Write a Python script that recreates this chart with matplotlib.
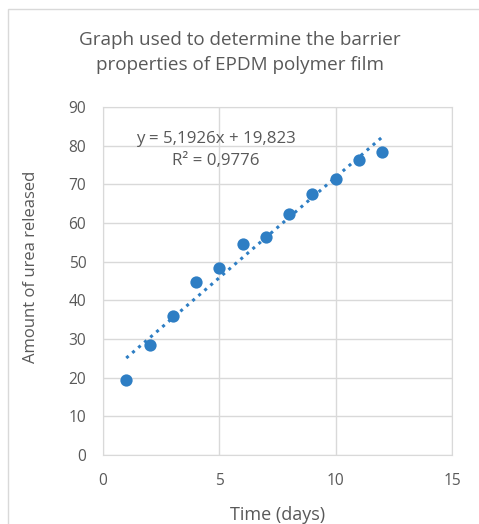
import numpy as np
import matplotlib
matplotlib.use("Agg")
import matplotlib.pyplot as plt
from matplotlib.patches import Rectangle

# data
days = [1, 2, 3, 4, 5, 6, 7, 8, 9, 10, 11, 12]
urea = [19.3, 28.4, 36.0, 44.6, 48.4, 54.6, 56.4, 62.4, 67.4, 71.4, 76.3, 78.4]
x_ticks = [0, 5, 10, 15]
y_ticks = [0, 10, 20, 30, 40, 50, 60, 70, 80, 90]
equation = "y = 5,1926x + 19,823\nR\u00b2 = 0,9776"

plt.rcParams['font.family'] = ['Open Sans', 'DejaVu Sans']
text_color = '#595959'
grid_color = '#D9D9D9'
blue = '#2E7EC4'

fig = plt.figure(figsize=(4.79, 5.24), dpi=100)
# chart frame, only its top and left edges fall inside the picture
fig.patches.append(Rectangle((0.0167, -0.1), 1.1, 1.083, transform=fig.transFigure,
                             fill=False, edgecolor=grid_color, linewidth=1))
ax = fig.add_axes([0.215, 0.132, 0.729, 0.664])

ax.scatter(days, urea, s=78, color=blue, zorder=3, linewidths=0)

# linear trendline
coef = np.polyfit(days, urea, 1)
xs = np.array([days[0], days[-1]])
ax.plot(xs, np.polyval(coef, xs), linestyle=(0, (1, 1.6)), linewidth=2.2,
        color=blue, zorder=2)

ax.text(4.86, 78.9, equation, ha='center', va='center', fontsize=12.2,
        color=text_color, linespacing=1.45)

ax.set_xlim(0, 15)
ax.set_ylim(0, 90)
ax.set_xticks(x_ticks)
ax.set_yticks(y_ticks)
ax.grid(True, color=grid_color, linewidth=1)
ax.set_axisbelow(True)
for s in ax.spines.values():
    s.set_color(grid_color)
ax.tick_params(length=0, labelsize=11.2, labelcolor=text_color)
ax.tick_params(axis='y', pad=12)
ax.tick_params(axis='x', pad=13)

ax.set_xlabel("Time (days)", fontsize=13, color=text_color)
ax.set_ylabel("Amount of urea released", fontsize=12, color=text_color)
ax.xaxis.set_label_coords(0.501, -0.148)
ax.yaxis.set_label_coords(-0.183, 0.54)
fig.text(0.5, 0.9, "Graph used to determine the barrier\nproperties of EPDM polymer film",
         ha='center', va='center', fontsize=13.6, color=text_color, linespacing=1.45)

fig.savefig("out.png", dpi=100)
